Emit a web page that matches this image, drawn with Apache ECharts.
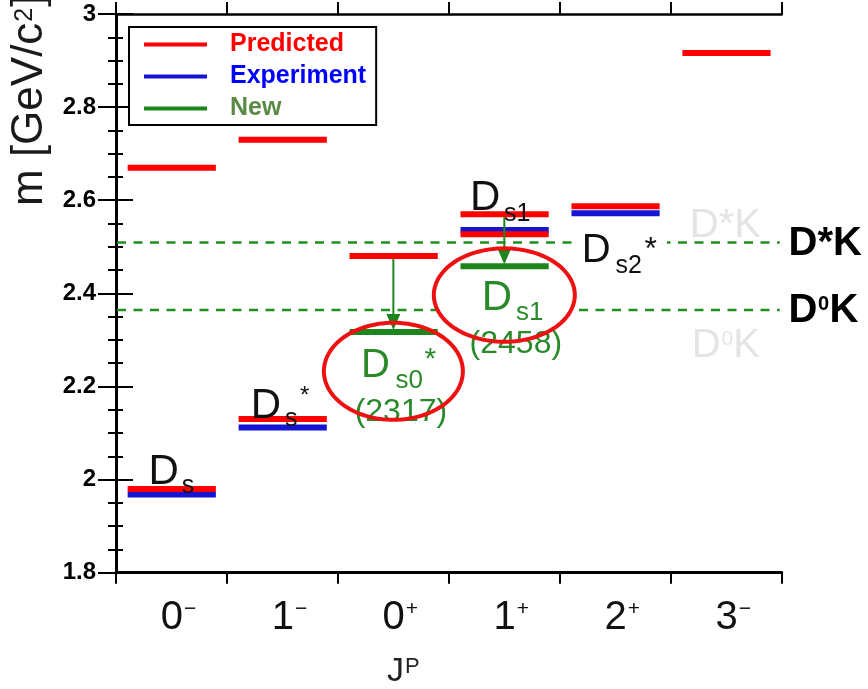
<!DOCTYPE html>
<html>
<head>
<meta charset="utf-8">
<title>Ds spectrum</title>
<script src="https://cdn.jsdelivr.net/npm/echarts@6/dist/echarts.min.js"></script>
<style>
  html, body { margin: 0; padding: 0; background: #fff; }
  #chart { width: 868px; height: 689px; }
</style>
</head>
<body>
<div id="chart"></div>
<script>
// ---------- data ----------
// J^P of each column
const jpSpin = ['0', '1', '0', '1', '2', '3'];
const jpParity = ['−', '−', '+', '+', '+', '−'];

// mass axis, GeV/c^2
const massMin = 1.8;
const massMax = 3.0;
const massStep = 0.2;

// levels: [J^P column, mass GeV/c^2]
const predicted = [[0, 1.980], [0, 2.670], [1, 2.130], [1, 2.730], [2, 2.480],
                   [3, 2.570], [3, 2.527], [4, 2.587], [5, 2.916]];
const experiment = [[0, 1.968], [1, 2.112], [3, 2.536], [4, 2.572]];
const newStates = [[2, 2.317], [3, 2.458]];

// DK thresholds
const thresholdMass = [2.509, 2.364];

// predicted -> observed: [J^P column, predicted mass, observed mass]
const shifts = [[2, 2.480, 2.317], [3, 2.570, 2.458]];

// legend entries
const seriesNames = ['Predicted', 'Experiment', 'New'];

// ---------- styling ----------
const FONT = '"Liberation Sans", Arial, Helvetica, sans-serif';
const RED = '#ff0000';
const BLUE = '#1414d2';
const GREEN = '#1c861c';
const INK = '#111111';
const TXT_GREEN = '#2a8a2a';
const GHOST = '#e4e4e4';
const MID = 0.3465; // canvas "middle" baseline offset for Liberation Sans

const measureCtx = document.createElement('canvas').getContext('2d');
function textWidth(t, size, weight) {
  measureCtx.font = (weight || 'normal') + ' ' + size + 'px ' + FONT;
  return measureCtx.measureText(t).width;
}
function P(t, size, rise, gap, weight) {
  return { t: t, size: size, rise: rise || 0, gap: gap || 0, weight: weight || 'normal' };
}
// a run of text pieces sharing one baseline (x0, y0); rise lifts sub/superscripts
function formulaEls(x0, y0, parts, color, center) {
  const widths = parts.map(p => textWidth(p.t, p.size, p.weight));
  let total = 0;
  parts.forEach((p, i) => { total += p.gap + widths[i]; });
  let x = center ? x0 - total / 2 : x0;
  return parts.map((p, i) => {
    x += p.gap;
    const el = {
      type: 'text', x: x, y: y0 - p.rise - MID * p.size, silent: true,
      style: {
        text: p.t, fill: color,
        font: p.weight + ' ' + p.size + 'px ' + FONT,
        align: 'left', verticalAlign: 'middle',
        textAlign: 'left', textVerticalAlign: 'middle'
      }
    };
    x += widths[i];
    return el;
  });
}

// state names, anchored to the level they name (column left edge, level mass)
const stateLabels = [
  { at: [0, experiment[0][1]], dx: 32.5, dy: -7.3, color: INK,
    parts: [P('D', 42), P('s', 25, -8, 3)] },
  { at: [1, experiment[1][1]], dx: 23.8, dy: -6.4, color: INK,
    parts: [P('D', 42), P('s', 25, -7, 4), P('*', 24, 16.5, 2.5)] },
  { at: [3, experiment[2][1]], dx: 21.1, dy: -16.7, color: INK,
    parts: [P('D', 42), P('s1', 25, -9, 3.6)] },
  { at: [4, experiment[3][1]], dx: 21.9, dy: 51.7, color: INK, bg: true,
    parts: [P('D', 40), P('s2', 25, -10, 5), P('*', 32, 3.7, 2.5)] },
  { at: [2, newStates[0][1]], dx: 23, dy: 48, color: TXT_GREEN,
    parts: [P('D', 40), P('s0', 26, -10, 5.8), P('*', 30, 10.2, 1.5)] },
  { at: [2, newStates[0][1]], dx: 63, dy: 91.3, color: TXT_GREEN, center: true,
    parts: [P('(2317)', 32)] },
  { at: [3, newStates[1][1]], dx: 32.8, dy: 47, color: TXT_GREEN,
    parts: [P('D', 42), P('s1', 26, -8.4, 4)] },
  { at: [3, newStates[1][1]], dx: 67, dy: 88.7, color: TXT_GREEN, center: true,
    parts: [P('(2458)', 32)] },
  // threshold names at the right frame
  { at: [6, thresholdMass[0]], dx: 6.9, dy: 15.7, color: '#000',
    parts: [P('D*K', 40, 0, 0, 'bold')] },
  { at: [6, thresholdMass[1]], dx: 6.9, dy: 14.9, color: '#000',
    parts: [P('D', 40, 0, 0, 'bold'), P('0', 20, 13.7, 0.5, 'bold'), P('K', 40, 0, 0.5, 'bold')] },
  { at: [6, thresholdMass[0]], dx: -92, dy: -2.6, color: GHOST,
    parts: [P('D*K', 40)] },
  { at: [6, thresholdMass[1]], dx: -90, dy: 49.9, color: GHOST,
    parts: [P('D', 40), P('0', 21, 13.3, 1), P('K', 40, 0, 0)] }
];

// ellipses circling the new states (pixel offsets / radii)
const ringLayout = [{ dy: 39.3, rx: 69.5, ry: 48.5 }, { dy: 28.7, rx: 70.5, ry: 46.7 }];

function ellipsePoints(cx, cy, rx, ry) {
  const pts = [];
  for (let i = 0; i < 120; i++) {
    const a = (i / 120) * Math.PI * 2;
    pts.push([cx + rx * Math.cos(a), cy + ry * Math.sin(a)]);
  }
  return pts;
}

function levelSeries(name, data, color, z) {
  return {
    type: 'custom', name: name, data: data, z: z, silent: true,
    itemStyle: { color: color },
    renderItem: function (params, api) {
      const c = api.value(0), m = api.value(1);
      const a = api.coord([c + 0.105, m]);
      const b = api.coord([c + 0.9, m]);
      return {
        type: 'line',
        shape: { x1: a[0], y1: a[1], x2: b[0], y2: b[1] },
        style: { stroke: color, lineWidth: 6, lineCap: 'butt' }
      };
    }
  };
}

function ringSeries(fill, z) {
  return {
    type: 'custom', data: newStates, z: z, silent: true,
    renderItem: function (params, api) {
      const L = ringLayout[params.dataIndex];
      const p = api.coord([api.value(0) + 0.5, api.value(1)]);
      return {
        type: 'polygon',
        shape: { points: ellipsePoints(p[0], p[1] + L.dy, L.rx, L.ry) },
        style: fill ? { fill: '#fff', stroke: null }
                    : { fill: null, stroke: '#ee1111', lineWidth: 4 }
      };
    }
  };
}

const chart = echarts.init(document.getElementById('chart'), null, { renderer: 'canvas' });

const option = {
  animation: false,
  backgroundColor: '#fff',
  textStyle: { fontFamily: FONT },
  grid: { left: 116, right: 86.3, top: 14, bottom: 116.3, containLabel: false },
  legend: {
    left: 129, top: 27, orient: 'vertical',
    backgroundColor: '#fff', borderColor: '#000', borderWidth: 2,
    padding: [5, 10, 4, 15],
    itemWidth: 63, itemHeight: 4, itemGap: 7,
    icon: 'rect', selectedMode: false,
    textStyle: { fontSize: 25, fontWeight: 'bold', fontFamily: FONT, padding: [0, 0, 0, 18] },
    data: [
      { name: seriesNames[0], textStyle: { color: '#ff0000' } },
      { name: seriesNames[1], textStyle: { color: '#0000ff' } },
      { name: seriesNames[2], textStyle: { color: '#5b8a47' } }
    ]
  },
  xAxis: [
    {
      type: 'value', position: 'bottom', min: 0, max: 6, interval: 1,
      axisLine: { lineStyle: { color: '#000', width: 3 } },
      axisTick: { length: 11, lineStyle: { color: '#000', width: 2 } },
      axisLabel: { show: false }, splitLine: { show: false }
    },
    {
      type: 'value', position: 'top', min: 0, max: 6, interval: 1,
      axisLine: { lineStyle: { color: '#000', width: 2.5 } },
      axisTick: { length: 12, lineStyle: { color: '#000', width: 2 } },
      axisLabel: { show: false }, splitLine: { show: false }
    },
    {
      type: 'category', position: 'bottom', boundaryGap: true,
      data: jpSpin.map((s, i) => s + jpParity[i]),
      axisLine: { show: false }, axisTick: { show: false }, splitLine: { show: false },
      axisLabel: {
        margin: 25,
        formatter: function (v, i) { return '{d|' + jpSpin[i] + '}{s|' + jpParity[i] + '}'; },
        rich: {
          d: { fontSize: 40, lineHeight: 40, fontFamily: FONT, color: INK,
               verticalAlign: 'bottom', padding: [0, 0, 0, 14] },
          s: { fontSize: 21, lineHeight: 21, fontFamily: FONT, color: INK,
               verticalAlign: 'bottom', padding: [0, 0, 18, 1] }
        }
      }
    }
  ],
  yAxis: [
    {
      type: 'value', position: 'left', min: massMin, max: massMax, interval: massStep,
      axisLine: { show: true, lineStyle: { color: '#000', width: 2 } },
      axisTick: { show: true, length: 18, lineStyle: { color: '#000', width: 2 } },
      minorTick: { show: true, splitNumber: 4, length: 8, lineStyle: { color: '#000', width: 2 } },
      axisLabel: {
        margin: 20, fontSize: 24, fontWeight: 'bold', color: '#000', fontFamily: FONT,
        formatter: v => String(Number(v.toFixed(1)))
      },
      splitLine: { show: false }
    },
    {
      type: 'value', position: 'right', min: massMin, max: massMax, interval: massStep,
      axisLine: { show: true, lineStyle: { color: '#000', width: 3 } },
      axisTick: { show: true, length: 17, lineStyle: { color: '#000', width: 2 } },
      minorTick: { show: true, splitNumber: 4, length: 7, lineStyle: { color: '#000', width: 2 } },
      axisLabel: { show: false },
      splitLine: { show: false }
    }
  ],
  graphic: [
    // axis titles
    { type: 'group', x: 45, y: 206, rotation: Math.PI / 2, silent: true,
      children: formulaEls(0, 0, [P('m [GeV/c', 44), P('2', 25, 11, 1), P(']', 44, 0, 1)], '#1a1a1a') },
    { type: 'group', x: 387, y: 683, silent: true,
      children: formulaEls(0, 0, [P('J', 34), P('P', 22, 8.5, 1)], '#222') }
  ],
  series: [
    // thresholds
    {
      type: 'custom', data: thresholdMass.map(m => [0, m]), z: 1, silent: true,
      renderItem: function (params, api) {
        const a = api.coord([0, api.value(1)]);
        const b = api.coord([6, api.value(1)]);
        return {
          type: 'line', shape: { x1: a[0] + 1, y1: a[1], x2: b[0] - 2, y2: b[1] },
          style: { stroke: '#1f8f1f', lineWidth: 2.5, lineDash: [9, 7.5] }
        };
      }
    },
    ringSeries(true, 2),
    levelSeries(seriesNames[1], experiment, BLUE, 3),
    levelSeries(seriesNames[0], predicted, RED, 4),
    levelSeries(seriesNames[2], newStates, GREEN, 4),
    // arrows predicted -> observed
    {
      type: 'custom', data: shifts, z: 5, silent: true,
      renderItem: function (params, api) {
        const x = api.value(0) + 0.5;
        const a = api.coord([x, api.value(1)]);
        const b = api.coord([x, api.value(2)]);
        const tipY = b[1] - 2, head = 16, half = 7;
        return {
          type: 'group',
          children: [
            { type: 'line', shape: { x1: a[0], y1: a[1] + 3, x2: b[0], y2: tipY - head + 2 },
              style: { stroke: GREEN, lineWidth: 2 } },
            { type: 'polygon',
              shape: { points: [[b[0], tipY], [b[0] - half, tipY - head], [b[0] + half, tipY - head]] },
              style: { fill: GREEN } }
          ]
        };
      }
    },
    // state and threshold names
    {
      type: 'custom', data: stateLabels.map(l => l.at), z: 6, silent: true,
      renderItem: function (params, api) {
        const L = stateLabels[params.dataIndex];
        const p = api.coord([api.value(0), api.value(1)]);
        const x0 = p[0] + L.dx, y0 = p[1] + L.dy;
        const kids = formulaEls(x0, y0, L.parts, L.color, L.center);
        if (L.bg) {
          let w = 0;
          L.parts.forEach(q => { w += q.gap + textWidth(q.t, q.size, q.weight); });
          kids.unshift({ type: 'rect', shape: { x: x0 - 8, y: y0 - 34, width: w + 18, height: 46 },
                         style: { fill: '#fff' } });
        }
        return { type: 'group', children: kids };
      }
    },
    ringSeries(false, 7)
  ]
};

chart.setOption(option);
</script>
</body>
</html>
